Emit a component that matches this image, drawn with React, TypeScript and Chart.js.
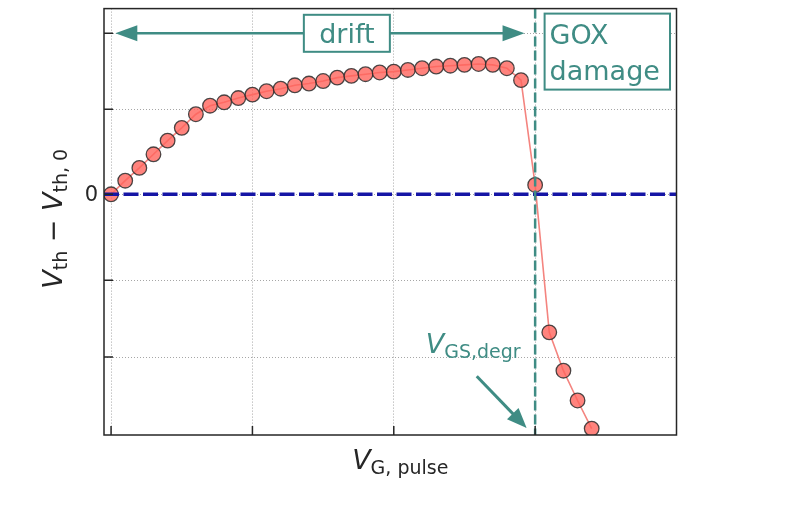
import React, { useEffect, useRef } from 'react';
import { Chart, registerables } from 'chart.js';

Chart.register(...registerables);

// gate pulse amplitude (arbitrary units, one tick = 1)
const vPulse = [
  0, 0.1, 0.2, 0.3, 0.4, 0.5, 0.6, 0.7, 0.8, 0.9,
  1.0, 1.1, 1.2, 1.3, 1.4, 1.5, 1.6, 1.7, 1.8, 1.9,
  2.0, 2.1, 2.2, 2.3, 2.4, 2.5, 2.6, 2.7, 2.8, 2.9,
  3.0, 3.1, 3.2, 3.3, 3.4,
];
// threshold voltage shift (as plotted)
const dVth = [
  0, 0.16, 0.31, 0.47, 0.63, 0.78, 0.94, 1.04, 1.08, 1.13,
  1.17, 1.21, 1.24, 1.28, 1.3, 1.33, 1.37, 1.39, 1.41, 1.43,
  1.44, 1.46, 1.48, 1.5, 1.51, 1.52, 1.53, 1.52, 1.48, 1.34,
  0.11, -1.62, -2.07, -2.42, -2.75,
];
const xTicks = [0, 1, 2, 3];
const yTicks = [-1.91, -1.01, 0, 1, 1.89];
const yTickLabels = ['', '', '0', '', ''];
const vDegr = 3.0;

const TEAL = '#3f8c84';
const FONT = '"DejaVu Sans", sans-serif';

type Part = { t: string; it?: boolean; sub?: boolean };

// draws a small mathtext-like label; (x, y) = baseline anchor
function drawMath(ctx: CanvasRenderingContext2D, parts: Part[], x: number, y: number, size: number, color: string, align: 'left' | 'center') {
  const fontOf = (p: Part) => `${p.it ? 'italic ' : ''}${p.sub ? Math.round(size * 0.7) : size}px ${FONT}`;
  let total = 0;
  parts.forEach(p => { ctx.font = fontOf(p); total += ctx.measureText(p.t).width; });
  let cx = align === 'center' ? x - total / 2 : x;
  ctx.fillStyle = color;
  ctx.textAlign = 'left';
  ctx.textBaseline = 'alphabetic';
  parts.forEach(p => {
    ctx.font = fontOf(p);
    ctx.fillText(p.t, cx, p.sub ? y + size * 0.19 : y);
    cx += ctx.measureText(p.t).width;
  });
}

function arrowHead(ctx: CanvasRenderingContext2D, fx: number, fy: number, tx: number, ty: number, len: number, half: number) {
  const ang = Math.atan2(ty - fy, tx - fx);
  const bx = tx - len * Math.cos(ang);
  const by = ty - len * Math.sin(ang);
  ctx.beginPath();
  ctx.moveTo(tx, ty);
  ctx.lineTo(bx + half * Math.sin(ang), by - half * Math.cos(ang));
  ctx.lineTo(bx - half * Math.sin(ang), by + half * Math.cos(ang));
  ctx.closePath();
  ctx.fill();
}

const annotations = {
  id: 'annotations',
  afterDatasetsDraw(chart: any) {
    const { ctx, chartArea: a, scales } = chart;
    const x = scales.x;
    const y = scales.y;
    ctx.save();

    // zero reference line
    const y0 = y.getPixelForValue(0);
    ctx.setLineDash([15, 4.5]);
    ctx.lineWidth = 3.5;
    ctx.strokeStyle = '#1515a5';
    ctx.beginPath();
    ctx.moveTo(a.left, y0);
    ctx.lineTo(a.right, y0);
    ctx.stroke();

    // degradation onset
    const xd = x.getPixelForValue(vDegr);
    ctx.setLineDash([10, 4]);
    ctx.lineWidth = 2.5;
    ctx.strokeStyle = TEAL;
    ctx.beginPath();
    ctx.moveTo(xd, a.top);
    ctx.lineTo(xd, a.bottom);
    ctx.stroke();
    ctx.setLineDash([]);

    // drift double arrow
    const ya = y.getPixelForValue(1.89);
    const xl = x.getPixelForValue(0.03);
    const xr = x.getPixelForValue(2.925);
    ctx.fillStyle = TEAL;
    ctx.lineWidth = 2.5;
    ctx.beginPath();
    ctx.moveTo(xl + 10, ya);
    ctx.lineTo(xr - 10, ya);
    ctx.stroke();
    arrowHead(ctx, xr, ya, xl, ya, 22, 8);
    arrowHead(ctx, xl, ya, xr, ya, 22, 8);

    // drift box
    const bc = x.getPixelForValue(1.668);
    ctx.font = `27px ${FONT}`;
    const bw = 86;
    const bh = 37;
    ctx.fillStyle = '#ffffff';
    ctx.fillRect(bc - bw / 2, ya - bh / 2, bw, bh);
    ctx.lineWidth = 2;
    ctx.strokeRect(bc - bw / 2, ya - bh / 2, bw, bh);
    ctx.fillStyle = TEAL;
    ctx.textAlign = 'center';
    ctx.textBaseline = 'alphabetic';
    ctx.fillText('drift', bc, ya + 10);

    // GOX damage box
    const gl = x.getPixelForValue(3.067);
    const gr = a.right - 6.5;
    const gt = a.top + 5;
    const gb = a.top + 81;
    ctx.fillStyle = '#ffffff';
    ctx.fillRect(gl, gt, gr - gl, gb - gt);
    ctx.strokeRect(gl, gt, gr - gl, gb - gt);
    ctx.fillStyle = TEAL;
    ctx.textAlign = 'left';
    ctx.fillText('GOX', gl + 5, gt + 30);
    ctx.fillText('damage', gl + 5, gt + 66);

    // V_GS,degr label + arrow
    drawMath(ctx, [{ t: 'V', it: true }, { t: 'GS,degr', sub: true }],
      x.getPixelForValue(2.226), y.getPixelForValue(-1.865), 27, TEAL, 'left');
    const fx = x.getPixelForValue(2.587);
    const fy = y.getPixelForValue(-2.135);
    const tx = x.getPixelForValue(2.94);
    const ty = y.getPixelForValue(-2.743);
    const ang = Math.atan2(ty - fy, tx - fx);
    ctx.strokeStyle = TEAL;
    ctx.lineWidth = 3;
    ctx.beginPath();
    ctx.moveTo(fx, fy);
    ctx.lineTo(tx - 12 * Math.cos(ang), ty - 12 * Math.sin(ang));
    ctx.stroke();
    ctx.fillStyle = TEAL;
    arrowHead(ctx, fx, fy, tx, ty, 20, 8);

    // frame and inward ticks
    ctx.strokeStyle = '#262626';
    ctx.lineWidth = 1.5;
    ctx.strokeRect(a.left, a.top, a.width, a.height);
    ctx.beginPath();
    xTicks.forEach(v => {
      const px = x.getPixelForValue(v);
      ctx.moveTo(px, a.bottom);
      ctx.lineTo(px, a.bottom - 9);
    });
    yTicks.forEach(v => {
      const py = y.getPixelForValue(v);
      ctx.moveTo(a.left, py);
      ctx.lineTo(a.left + 9, py);
    });
    ctx.stroke();
    ctx.restore();
  },
  afterDraw(chart: any) {
    const { ctx, chartArea: a, scales } = chart;
    const y = scales.y;
    ctx.save();
    // y tick labels
    ctx.font = `21px ${FONT}`;
    ctx.fillStyle = '#262626';
    ctx.textAlign = 'right';
    ctx.textBaseline = 'middle';
    yTicks.forEach((v, i) => {
      if (yTickLabels[i]) ctx.fillText(yTickLabels[i], a.left - 6, y.getPixelForValue(v) + 1);
    });
    // x axis title
    drawMath(ctx, [{ t: 'V', it: true }, { t: 'G, pulse', sub: true }],
      (a.left + a.right) / 2 + 10, a.bottom + 34, 27, '#262626', 'center');
    // y axis title
    ctx.translate(a.left - 42, (a.top + a.bottom) / 2 - 3);
    ctx.rotate(-Math.PI / 2);
    drawMath(ctx, [
      { t: 'V', it: true }, { t: 'th', sub: true }, { t: ' \u2212 ' },
      { t: 'V', it: true }, { t: 'th, 0', sub: true },
    ], 0, 0, 27, '#262626', 'center');
    ctx.restore();
  },
};

const App: React.FC = () => {
  const canvasRef = useRef<HTMLCanvasElement | null>(null);
  const chartRef = useRef<Chart | null>(null);

  useEffect(() => {
    if (!canvasRef.current) return;
    if (chartRef.current) chartRef.current.destroy();

    const gridOpts = { color: '#a6a6a6', lineWidth: 1, drawTicks: false };
    const borderOpts = { display: false, dash: [1, 2] };

    chartRef.current = new Chart(canvasRef.current, {
      type: 'scatter',
      data: {
        datasets: [
          {
            data: vPulse.map((v, i) => ({ x: v, y: dVth[i] })),
            showLine: true,
            borderColor: '#f4847f',
            borderWidth: 1.6,
            pointRadius: 7.3,
            pointBorderWidth: 1.3,
            pointBackgroundColor: 'rgba(255, 100, 92, 0.8)',
            pointBorderColor: 'rgba(45, 45, 45, 0.85)',
          },
        ],
      },
      options: {
        animation: false,
        responsive: true,
        maintainAspectRatio: false,
        layout: { padding: { top: 7.5, right: 119.5, left: 0, bottom: 0 } },
        plugins: { legend: { display: false }, tooltip: { enabled: false } },
        scales: {
          x: {
            type: 'linear',
            min: -0.05,
            max: 4.0,
            afterBuildTicks: (s: any) => { s.ticks = xTicks.map(v => ({ value: v })); },
            afterFit: (s: any) => { s.height = 70; },
            ticks: { display: false },
            grid: gridOpts,
            border: borderOpts,
          },
          y: {
            type: 'linear',
            min: -2.825,
            max: 2.18,
            afterBuildTicks: (s: any) => { s.ticks = yTicks.map(v => ({ value: v })); },
            afterFit: (s: any) => { s.width = 104; },
            ticks: { display: false },
            grid: gridOpts,
            border: borderOpts,
          },
        },
      } as any,
      plugins: [annotations],
    });

    return () => {
      if (chartRef.current) {
        chartRef.current.destroy();
        chartRef.current = null;
      }
    };
  }, []);

  return (
    <div style={{ position: 'absolute', left: 0, top: 0, width: 796, height: 505, background: '#fff' }}>
      <canvas ref={canvasRef} />
    </div>
  );
};

export default App;
